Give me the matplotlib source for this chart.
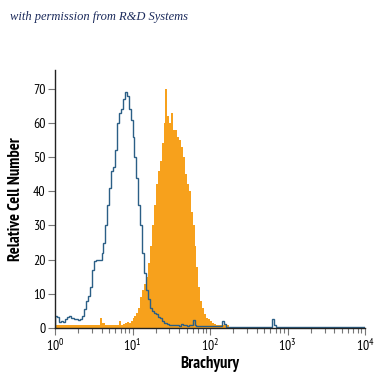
import numpy as np
import matplotlib
matplotlib.use("Agg")
import matplotlib.pyplot as plt
from matplotlib.ticker import LogLocator, NullFormatter

# Flow cytometry histogram: isotype control (outline) vs Brachyury stain (filled)
# channels: 160 bins over 4 decades (10^0 .. 10^4), 0.025 decade each
n_bins = 160
decades = 4

control_counts = ([3.5, 3.3, 1.8, 2.0, 1.9, 2.6, 3.2, 3.5, 3.0, 2.8, 2.5, 2.7, 2.4, 2.6]
                  + [3.5, 5.5, 8.0, 9.5, 12, 17, 19.5, 20, 20, 19.8, 22, 25, 30, 36, 41,
                     46, 47, 52, 60, 63, 64, 67, 69, 68, 64, 61, 56, 50, 44, 36, 30,
                     22, 16, 11, 8.5, 6, 5, 4.5, 4, 3.2, 2.8, 2, 1.5, 1.5, 1.2, 1.0, 1.0]
                  + [0.8, 0.9, 0.8, 0.7, 1.3, 0.8, 0.8, 0.7, 0.8, 0.9]
                  + [2.2, 1.0]
                  + [0.7, 0.6, 0.6, 0.5, 0.6, 0.5, 0.5, 0.6, 0.5, 0.5, 0.5, 0.6, 0.5]
                  + [2.0, 1.2]
                  + [0.4] * 24
                  + [2.5, 1.0]
                  + [0.4] * 46)

brachyury_counts = ([0.8] * 23
                    + [3.0, 1.5]
                    + [1.5, 0.8, 0.8, 0.8, 0.8, 0.8, 0.8, 0.8]
                    + [2.0, 1.0, 1.2, 1.5, 1.8, 1.5]
                    + [2, 3, 3.5, 4.5, 6, 9, 11, 13, 15, 19, 24, 30, 36, 42, 46,
                       49, 54, 60, 70, 62, 60, 63, 58, 58, 56, 55, 53, 50, 45, 42,
                       40, 34, 30, 24, 18, 12, 8, 6, 4, 3, 2.5, 2, 1.5, 1.2]
                    + [1.0] * 7
                    + [0.0] * 70)

y_ticks = [0, 10, 20, 30, 40, 50, 60, 70]

edges = np.logspace(0, decades, n_bins + 1)

fig = plt.figure(figsize=(3.75, 3.75), dpi=100)
ax = fig.add_axes([0.1467, 0.1253, 0.8267, 0.688])

ax.stairs(brachyury_counts, edges, fill=True, color="#f7a11c", lw=0)
ax.stairs(control_counts, edges, color="#2b5f86", lw=1.0)

ax.set_xscale("log")
ax.set_xlim(1, 1e4)
ax.set_ylim(0, 75.5)

for s in ["top", "right"]:
    ax.spines[s].set_visible(False)
for s in ["left", "bottom"]:
    ax.spines[s].set_color("#222222")
    ax.spines[s].set_linewidth(1.0)

narrow = ["PT Sans Narrow", "DejaVu Sans"]

ax.set_yticks(y_ticks)
ax.set_yticklabels([str(v) for v in y_ticks], family=narrow, fontsize=10)
ax.xaxis.set_major_locator(LogLocator(base=10, numticks=10))
ax.xaxis.set_minor_locator(LogLocator(base=10, subs=np.arange(2, 10), numticks=10))
ax.xaxis.set_minor_formatter(NullFormatter())
ax.tick_params(axis="both", which="major", length=5, width=0.8, color="#777777", pad=2)
ax.tick_params(axis="x", which="minor", length=3.5, width=0.8, color="#777777")
plt.rcParams["mathtext.fontset"] = "custom"
plt.rcParams["mathtext.rm"] = "PT Sans Narrow"
for lab in ax.get_xticklabels():
    lab.set_family(narrow)
    lab.set_fontsize(10)

ax.set_xlabel("Brachyury", family=narrow, fontsize=12, fontweight="bold", labelpad=2)
ax.set_ylabel("Relative Cell Number", family=narrow, fontsize=12, fontweight="bold", labelpad=6)

fig.text(0.027, 0.955, "with permission from R&D Systems", family="Liberation Serif",
         style="italic", fontsize=9, color="#1c2b5c", va="center")

fig.savefig("out.png", dpi=100)
